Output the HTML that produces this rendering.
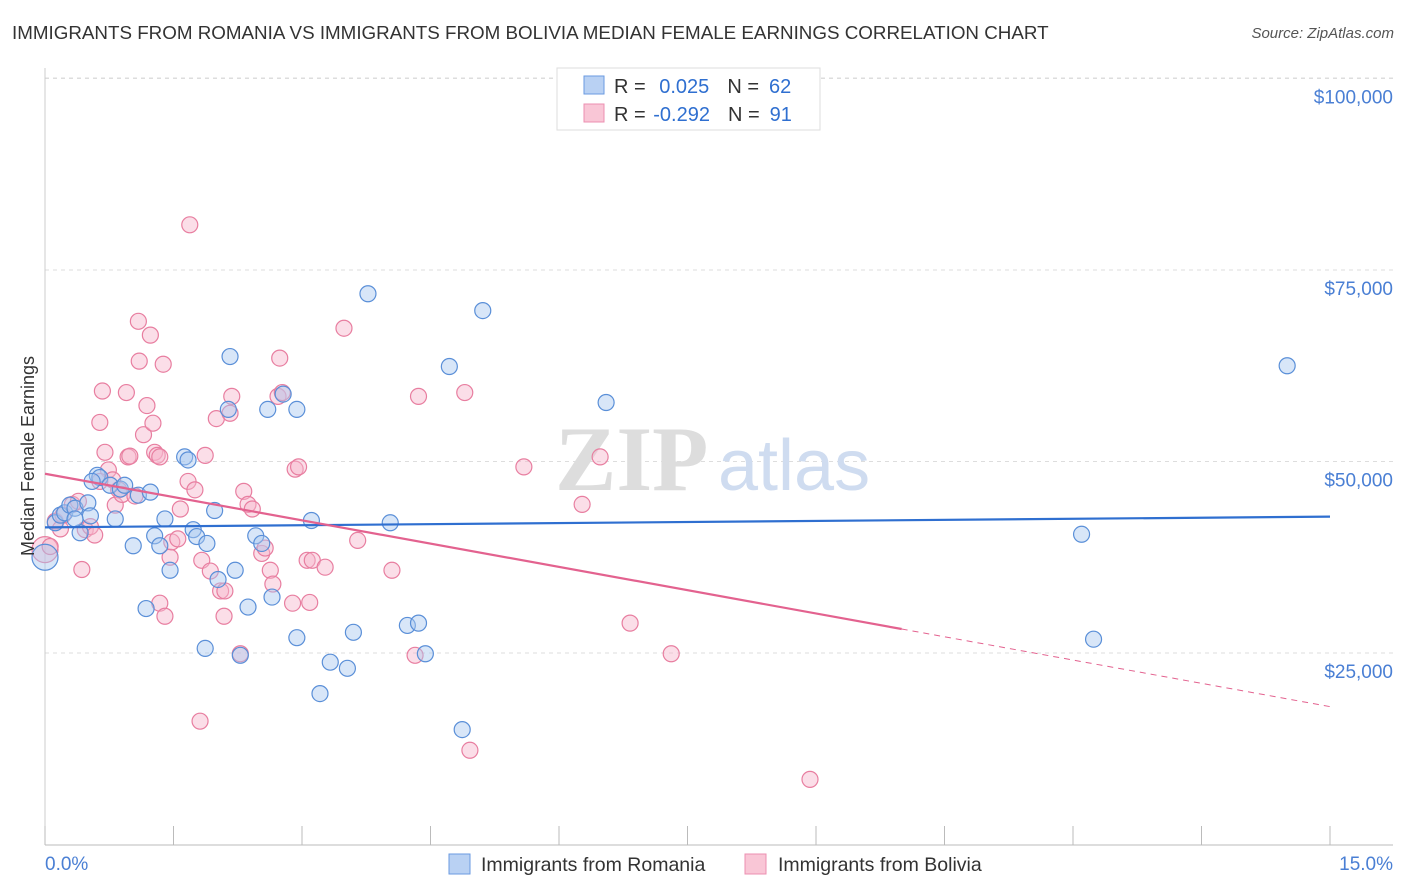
<!DOCTYPE html>
<html><head><meta charset="utf-8">
<style>
body{margin:0;background:#fff;font-family:"Liberation Sans",sans-serif;}
#wrap{position:relative;width:1406px;height:892px;overflow:hidden;}
.title{position:absolute;left:12px;top:22px;font-size:18.8px;color:#333;}
.source{position:absolute;right:12px;top:25px;font-size:15px;color:#555;font-style:italic;}
</style></head><body>
<div id="wrap">
<div class="title">IMMIGRANTS FROM ROMANIA VS IMMIGRANTS FROM BOLIVIA MEDIAN FEMALE EARNINGS CORRELATION CHART</div>
<div class="source">Source: ZipAtlas.com</div>
<svg id="svg" width="1406" height="892" style="position:absolute;left:0;top:0"></svg>
</div>
<script>
const yTicks=[25000,50000,75000,100000];
const yTickLabels=["$25,000","$50,000","$75,000","$100,000"];
const xTicks=[0,1.5,3,4.5,6,7.5,9,10.5,12,13.5,15];
const romaniaX=[0,0.12,0.18,0.23,0.29,0.35,0.41,0.5,0.53,0.61,0.64,0.76,0.82,0.88,0.93,1.03,1.09,1.18,1.23,1.28,1.34,1.4,1.46,1.63,1.67,1.73,1.77,1.87,1.89,1.98,2.02,2.16,2.14,2.22,2.28,2.37,2.46,2.53,2.6,2.65,2.78,2.94,2.94,3.11,3.33,3.53,3.6,3.21,3.77,4.03,4.23,4.36,4.44,4.72,4.87,5.11,6.55,12.1,12.24,14.5,0.35,0.55];
const romaniaY=[37500,42000,43000,43300,44300,43900,40700,44600,42900,48200,47900,46900,42500,46400,46900,39000,45600,30800,46000,40300,39000,42500,35800,50600,50200,41100,40200,25600,39300,43600,34600,63700,56800,35800,24700,31000,40300,39300,56800,32300,58800,56800,27000,42300,23800,23000,27700,19700,71900,42000,28600,28900,24900,62400,15000,69700,57700,40500,26800,62500,42500,47400];
const boliviaX=[0,0.06,0.12,0.18,0.21,0.32,0.39,0.43,0.47,0.53,0.58,0.64,0.67,0.7,0.74,0.79,0.82,0.86,0.9,0.95,0.97,0.99,1.05,1.09,1.1,1.15,1.19,1.23,1.26,1.28,1.31,1.34,1.38,1.4,1.46,1.48,1.55,1.58,1.67,1.69,1.75,1.81,1.83,1.87,1.93,2.0,2.05,2.09,2.1,2.16,2.18,2.28,2.32,2.37,2.42,2.53,2.57,2.63,2.66,2.72,2.74,2.77,2.89,2.92,2.96,3.06,3.09,3.12,3.27,3.49,3.65,4.05,4.32,4.36,4.9,4.96,5.59,6.27,6.48,6.83,7.31,8.93,0.64,1.34];
const boliviaY=[38500,38900,42200,41200,43000,44400,44800,35900,41100,41500,40400,55100,59200,51200,48900,47600,44300,46300,45700,59000,50600,50700,45500,68300,63100,53500,57300,66500,55000,51200,50800,31500,62700,29800,37500,39500,39900,43800,47400,80900,46300,16100,37100,50800,35700,55600,33100,29800,33100,56300,58500,24900,46100,44400,43800,38000,38700,35800,34000,58500,63500,59000,31500,49000,49300,37100,31600,37100,36200,67400,39700,35800,24700,58500,59000,12300,49300,44400,50600,28900,24900,8500,47400,50600];
const romaniaLine=[41400,42800];
const boliviaLine=[48400,18000];
const svg=document.getElementById('svg');const NS='http://www.w3.org/2000/svg';
const X=v=>45+v/15*1285, Y=v=>844.5-v/25000*191.5;
function mk(t,a,p){const e=document.createElementNS(NS,t);for(const k in a)e.setAttribute(k,a[k]);(p||svg).appendChild(e);return e;}
yTicks.forEach((t,i)=>{
 const g=mk('line',{x1:45,x2:1393,y1:Y(t),y2:Y(t),stroke:'#ddd','stroke-dasharray':'4,4'});
 
 
 const l=mk('text',{x:1393,y:Y(t)+25,'text-anchor':'end','font-size':19,fill:'#4a7fd4','font-family':'Liberation Sans'});
 l.textContent=yTickLabels[i];
 
 
});
const topGrid=mk('line',{x1:45,x2:1393,y1:78,y2:78,stroke:'#ddd','stroke-dasharray':'4,4'});


const ax=mk('line',{x1:45,x2:1393,y1:845,y2:845,stroke:'#bbb'});


const ay=mk('line',{x1:45,x2:45,y1:68,y2:845,stroke:'#ccc'});


xTicks.forEach(t=>{const e=mk('line',{x1:X(t),x2:X(t),y1:826,y2:845,stroke:'#bbb'});
 
 });
const wm=mk('text',{x:555,y:490,'font-size':92,fill:'#ddd','font-family':'Liberation Serif','font-weight':'bold'});wm.textContent='ZIP';


const wm2=mk('text',{x:718,y:490,'font-size':72,fill:'#cfdcf0','font-family':'Liberation Sans'});wm2.textContent='atlas';


function pts(xs,ys,fill,stroke,name){xs.forEach((x,i)=>{
 const c=mk('circle',{cx:X(x),cy:Y(ys[i]),r:i===0?13:8,fill:fill,'fill-opacity':0.45,stroke:stroke,'stroke-width':1.2});
 
 });}
pts(boliviaX,boliviaY,'#f7b6cb','#e87ea0','bolivia-point');
pts(romaniaX,romaniaY,'#a9c7ef','#5a8fd8','romania-point');
const bl=mk('line',{x1:X(0),y1:Y(romaniaLine[0]),x2:X(15),y2:Y(romaniaLine[1]),stroke:'#2f6fd0','stroke-width':2.2});


const bs=(boliviaLine[1]-boliviaLine[0])/15, xe=10;
const pl=mk('line',{x1:X(0),y1:Y(boliviaLine[0]),x2:X(xe),y2:Y(boliviaLine[0]+bs*xe),stroke:'#e3628f','stroke-width':2.2});


const pd=mk('line',{x1:X(xe),y1:Y(boliviaLine[0]+bs*xe),x2:X(15),y2:Y(boliviaLine[1]),stroke:'#e3628f','stroke-width':1,'stroke-dasharray':'6,5'});


</script>
<svg width="1406" height="892" style="position:absolute;left:0;top:0;font-family:'Liberation Sans',sans-serif">
<text x="45" y="870" font-size="19" fill="#4a7fd4">0.0%</text>
<text x="1393" y="870" font-size="19" fill="#4a7fd4" text-anchor="end">15.0%</text>
<text transform="translate(34,456) rotate(-90)" font-size="18" fill="#333" text-anchor="middle">Median Female Earnings</text>
<g>
<rect x="557" y="68" width="263" height="62" fill="#fff" stroke="#ddd"/>
<rect x="584" y="76" width="20" height="18" fill="#b9d1f3" stroke="#6a9ae0"/>
<rect x="584" y="104" width="20" height="18" fill="#f9c6d6" stroke="#ec8fb0"/>
<text x="614" y="93" font-size="20" fill="#333">R = <tspan fill="#2f6fd0" dx="8">0.025</tspan><tspan dx="18">N =</tspan><tspan fill="#2f6fd0" dx="10">62</tspan></text>
<text x="614" y="121" font-size="20" fill="#333">R = <tspan fill="#2f6fd0" dx="2">-0.292</tspan><tspan dx="18">N =</tspan><tspan fill="#2f6fd0" dx="10">91</tspan></text>
</g>
<g>
<rect x="449" y="854" width="21" height="20" fill="#b9d1f3" stroke="#6a9ae0"/>
<text x="481" y="871" font-size="19.5" fill="#333">Immigrants from Romania</text>
<rect x="745" y="854" width="21" height="20" fill="#f9c6d6" stroke="#ec8fb0"/>
<text x="778" y="871" font-size="19.5" fill="#333">Immigrants from Bolivia</text>
</g>
</svg>
</body></html>
